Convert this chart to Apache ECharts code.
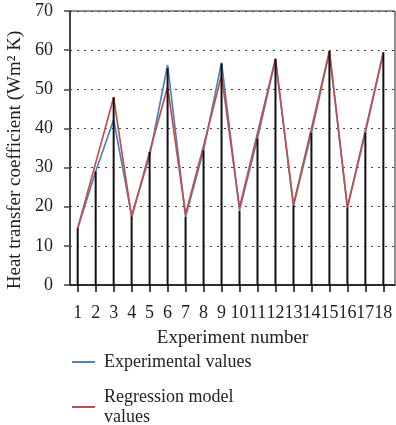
<!DOCTYPE html>
<html>
<head>
<meta charset="utf-8">
<script src="https://cdn.jsdelivr.net/npm/echarts@6/dist/echarts.min.js"></script>
<style>
html,body{margin:0;padding:0;background:#fff;}
#c{width:396px;height:425px;}
</style>
</head>
<body>
<div id="c"></div>
<script>
var experiments = [1,2,3,4,5,6,7,8,9,10,11,12,13,14,15,16,17,18];
var experimentalValues = [14.5, 29, 42.2, 17.7, 33, 56.2, 17.4, 34.4, 56.8, 19.1, 37.5, 57.6, 20.2, 38.9, 59.5, 19.8, 38.9, 59.3];
var regressionValues = [14.5, 31.2, 47.9, 17.3, 34, 50.6, 18.1, 35.5, 53.6, 19.8, 38.8, 57.8, 20.5, 40, 59.8, 19.8, 39.5, 59.5];
var stemValues = [14.5, 29, 48, 17.5, 34, 55.4, 17.4, 34.4, 56.6, 19, 37.4, 57.8, 20.3, 38.9, 59.8, 19.8, 38.9, 59.4];
var yTicks = [0,10,20,30,40,50,60,70];
var yTitle = 'Heat transfer coefficient (Wm² K)';
var seriesNames = ['Experimental values', 'Regression model\nvalues'];

function pairs(vals){ return experiments.map(function(x,i){ return [x, vals[i]]; }); }

var font = 'Liberation Serif';
function legendAt(name, top){
  return {
    orient: 'vertical', left: 72, top: top, padding: 0, itemWidth: 23, itemHeight: 2,
    icon: 'rect',
    textStyle: {fontFamily: font, fontSize: 18, color: '#222', lineHeight: 20, padding: [0, 0, 0, 4]},
    data: [name]
  };
}
var chart = echarts.init(document.getElementById('c'));
chart.setOption({
  animation: false,
  textStyle: {fontFamily: font},
  grid: {left: 70, top: 11, right: 1, bottom: 140, show: true, borderColor: '#222', borderWidth: 1,
         containLabel: false, outerBoundsMode: 'none'},
  graphic: [{
    type: 'text', x: 15, y: 160, rotation: Math.PI / 2,
    style: {text: yTitle, font: '19px "Liberation Serif"', fill: '#222', align: 'center', verticalAlign: 'middle'}
  }],
  legend: [legendAt(seriesNames[0], 352), legendAt(seriesNames[1], 387)],
  xAxis: {
    type: 'value', min: 0.572, max: 18.648,
    name: 'Experiment number', nameLocation: 'middle', nameGap: 44,
    nameTextStyle: {fontFamily: font, fontSize: 19, color: '#222'},
    axisLine: {lineStyle: {color: '#111', width: 1.5}},
    axisTick: {show: true, length: 7, customValues: experiments, lineStyle: {color: '#111', width: 1.5}},
    axisLabel: {customValues: experiments, fontFamily: font, fontSize: 18, color: '#222', margin: 19},
    splitLine: {show: false}
  },
  yAxis: {
    type: 'value', min: 0, max: 70, interval: 10,
    axisLine: {show: true, lineStyle: {color: '#444', width: 2}},
    axisTick: {show: true, length: 6, lineStyle: {color: '#444', width: 1.5}},
    axisLabel: {fontFamily: font, fontSize: 18, color: '#222', margin: 17,
      formatter: function(v){ return yTicks.indexOf(v) >= 0 ? String(v) : ''; }},
    splitLine: {show: true, lineStyle: {color: '#444', type: [2, 5], width: 1}}
  },
  series: [
    {type: 'line', name: seriesNames[0], data: pairs(experimentalValues),
     symbol: 'none', lineStyle: {color: '#4f81bd', width: 1.7}, itemStyle: {color: '#4f81bd'}},
    {type: 'line', name: seriesNames[1], data: pairs(regressionValues),
     symbol: 'none', lineStyle: {color: '#c0504d', width: 1.7}, itemStyle: {color: '#c0504d'}},
    {type: 'bar', name: 'stems', data: pairs(stemValues), barWidth: 2, z: 5,
     itemStyle: {color: '#111'}, legendHoverLink: false, silent: true}
  ]
});
</script>
</body>
</html>
